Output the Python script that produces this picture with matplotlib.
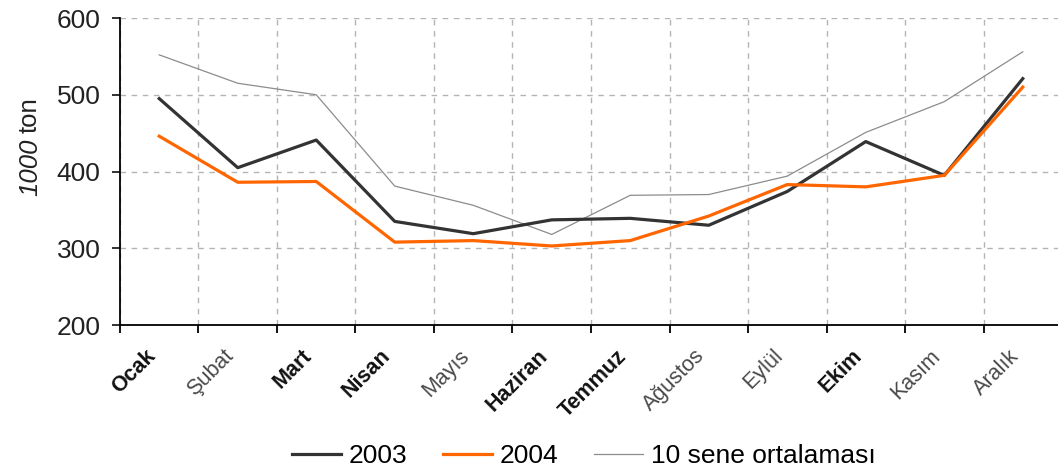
import matplotlib
matplotlib.use('Agg')
import matplotlib.pyplot as plt
import matplotlib.transforms as mtransforms
import numpy as np

# Aylar
aylar = ['Ocak', 'Şubat', 'Mart', 'Nisan', 'Mayıs', 'Haziran',
         'Temmuz', 'Ağustos', 'Eylül', 'Ekim', 'Kasım', 'Aralık']
# Seriler (1000 ton)
seri_2003 = [495, 405, 441, 335, 319, 337, 339, 330, 374, 439, 395, 521]
seri_2004 = [446, 386, 387, 308, 310, 303, 310, 342, 383, 380, 395, 510]
ortalama_10 = [552, 515, 500, 381, 356, 318, 369, 370, 394, 451, 491, 556]
# Kalin gorunen etiketler
kalin = ['Ocak', 'Mart', 'Nisan', 'Haziran', 'Temmuz', 'Ekim']

plt.rcParams['font.family'] = ['Liberation Sans', 'DejaVu Sans']

W, H = 1058, 469
fig = plt.figure(figsize=(W / 100, H / 100), dpi=100)
ax = fig.add_axes([0.1134, 0.307, 0.8904, 0.6546])

x = np.arange(len(aylar)) + 0.5
ax.plot(x, ortalama_10, color='#8c8c8c', lw=0.9, label='10 sene ortalaması', zorder=3)
ax.plot(x, seri_2003, color='#333333', lw=2.3, label='2003', zorder=4)
ax.plot(x, seri_2004, color='#ff6600', lw=2.3, label='2004', zorder=5)

ax.set_xlim(0, 12)
ax.set_ylim(200, 600)
ax.set_yticks([200, 300, 400, 500, 600])
ax.set_xticks(np.arange(0, 13))
ax.set_xticklabels([])
ax.set_xticks(x, minor=True)
ax.set_xticklabels(aylar, minor=True)

# Izgara
ax.grid(True, which='major', color='#b4b4b4', linestyle=(0, (4, 4)), lw=1)
ax.set_axisbelow(True)

for s in ['top', 'right']:
    ax.spines[s].set_visible(False)
ax.spines['left'].set_linewidth(1.3)
ax.spines['bottom'].set_linewidth(1.3)

ax.tick_params(axis='y', which='major', direction='out', length=6, width=1.3,
               labelsize=19, pad=8, colors='#222222')
ax.tick_params(axis='x', which='major', direction='out', length=6, width=1.3)
ax.tick_params(axis='x', which='minor', length=0, pad=0)

# Etiketleri dondur ve kaydir
offset = mtransforms.ScaledTranslation(-0.07, -0.28, fig.dpi_scale_trans)
for lab in ax.get_xticklabels(minor=True):
    lab.set_rotation(45)
    lab.set_rotation_mode('anchor')
    lab.set_ha('right')
    lab.set_va('center')
    lab.set_transform(lab.get_transform() + offset)
    lab.set_fontsize(15.5)
    if lab.get_text() in kalin:
        lab.set_fontweight('bold')
        lab.set_color('#111111')
    else:
        lab.set_color('#4a4a4a')

# Y ekseni basligi: "1000" italik, "ton" duz
t1 = fig.text(30 / W, 1 - 196 / H, '1000', rotation=90, rotation_mode='anchor',
              ha='left', va='center', fontsize=18.5, style='italic', color='#222222')
fig.canvas.draw()
r = fig.canvas.get_renderer()
h1 = t1.get_window_extent(r).height
fig.text(30 / W, 1 - (196 - h1 - 6) / H, 'ton', rotation=90, rotation_mode='anchor',
         ha='left', va='center', fontsize=18.5, color='#222222')

# Legend
h, l = ax.get_legend_handles_labels()
sira = [1, 2, 0]
fig.legend([h[i] for i in sira], [l[i] for i in sira], loc='center',
           bbox_to_anchor=(0.552, 0.027), ncol=3, frameon=False, fontsize=19,
           handlelength=1.85, handletextpad=0.3, columnspacing=1.35)

fig.savefig('out.png', dpi=100)
